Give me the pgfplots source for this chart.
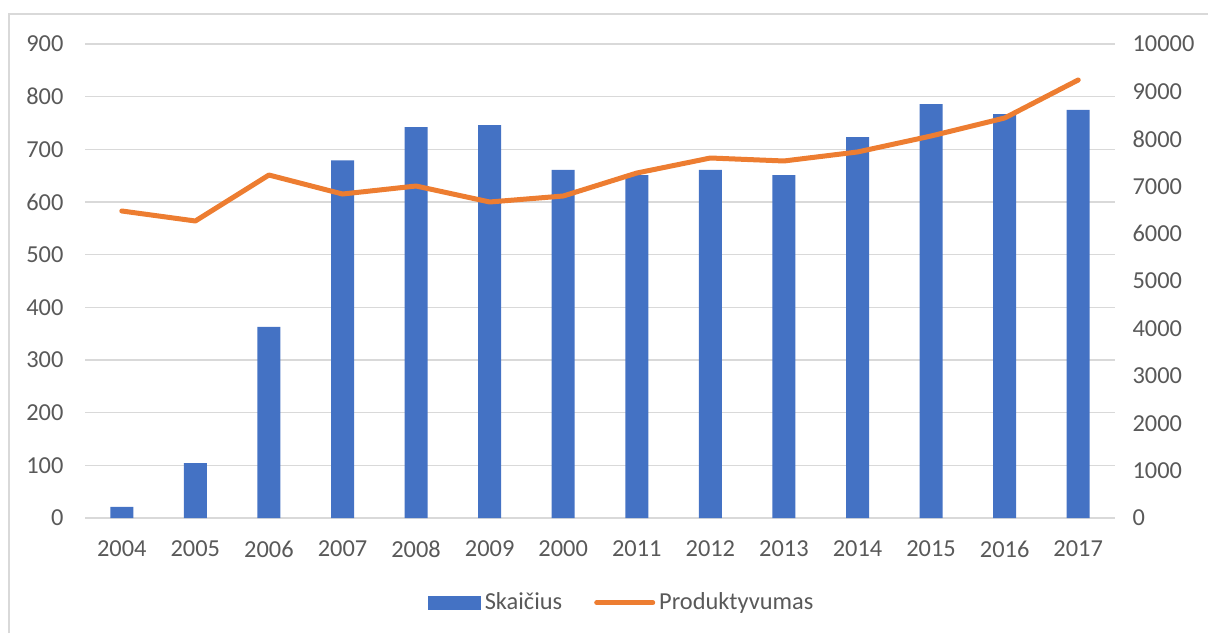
\documentclass[border=0pt]{standalone}
\usepackage{pgfplots}
\pgfplotsset{compat=1.18}
\usepackage{fontspec}
\setmainfont{Carlito}
\definecolor{barblue}{HTML}{4472C4}
\definecolor{lineorange}{HTML}{ED7D31}
\definecolor{txtgray}{HTML}{595959}
\definecolor{gridgray}{HTML}{D9D9D9}
\pgfplotstableread{
x skaicius prod
0 21 6477
1 104 6266
2 363 7236
3 679 6835
4 742 7004
5 746 6667
6 661 6793
7 651 7278
8 661 7595
9 651 7532
10 723 7722
11 786 8059
12 767 8439
13 775 9241
}\data
\begin{document}
\fontsize{12.2}{14}\selectfont
\begin{tikzpicture}
\useasboundingbox (0,0) rectangle (604pt,316.5pt);
\draw[gridgray,line width=0.6pt] (4.5pt,0) -- (4.5pt,309.5pt) -- (604pt,309.5pt);
\pgfplotsset{
  common/.style={
    scale only axis, width=515pt, height=237pt,
    at={(42.5pt,57.5pt)}, anchor=south west,
    xmin=-0.5, xmax=13.5,
    major tick length=0pt,
    axis line style={draw=none},
    tick label style={font=\fontsize{12.2}{14}\selectfont, text=txtgray},
    /pgf/number format/assume math mode=true,
    /pgf/number format/set thousands separator={},
  }
}
\begin{axis}[common,
  ymin=0, ymax=900, ytick={0,100,...,900},
  ymajorgrids, grid style={gridgray, line width=0.8pt},
  xtick={0,...,13},
  xticklabels={2004,2005,2006,2007,2008,2009,2000,2011,2012,2013,2014,2015,2016,2017},
  xticklabel style={yshift=-7pt},
  yticklabel style={xshift=-6.5pt},
]
\addplot[ybar, bar width=11.5pt, fill=barblue, draw=none] table[x=x,y=skaicius]{\data};
\end{axis}
\begin{axis}[common,
  axis y line*=right, axis x line=none,
  ymin=0, ymax=10000, ytick={0,1000,...,10000},
  yticklabel style={xshift=4.5pt},
  scaled y ticks=false,
  legend columns=2,
  legend style={at={(0.522,-0.179)}, anchor=center, draw=none, fill=none,
    font=\fontsize{12.2}{14}\selectfont, text=txtgray,
    /tikz/every even column/.append style={column sep=14pt}},
  legend cell align=left,
]
\addlegendimage{legend image code/.code={\fill[barblue] (0pt,-3.3pt) rectangle (26pt,3.3pt);}}
\addlegendentry{Skaičius}
\addplot[lineorange, line width=2.5pt, line cap=round, line join=round,
  legend image code/.code={\draw[lineorange,line width=2.5pt,line cap=round] (0pt,0pt) -- (28pt,0pt);}]
  table[x=x,y=prod]{\data};
\addlegendentry{Produktyvumas}
\end{axis}
\end{tikzpicture}
\end{document}
